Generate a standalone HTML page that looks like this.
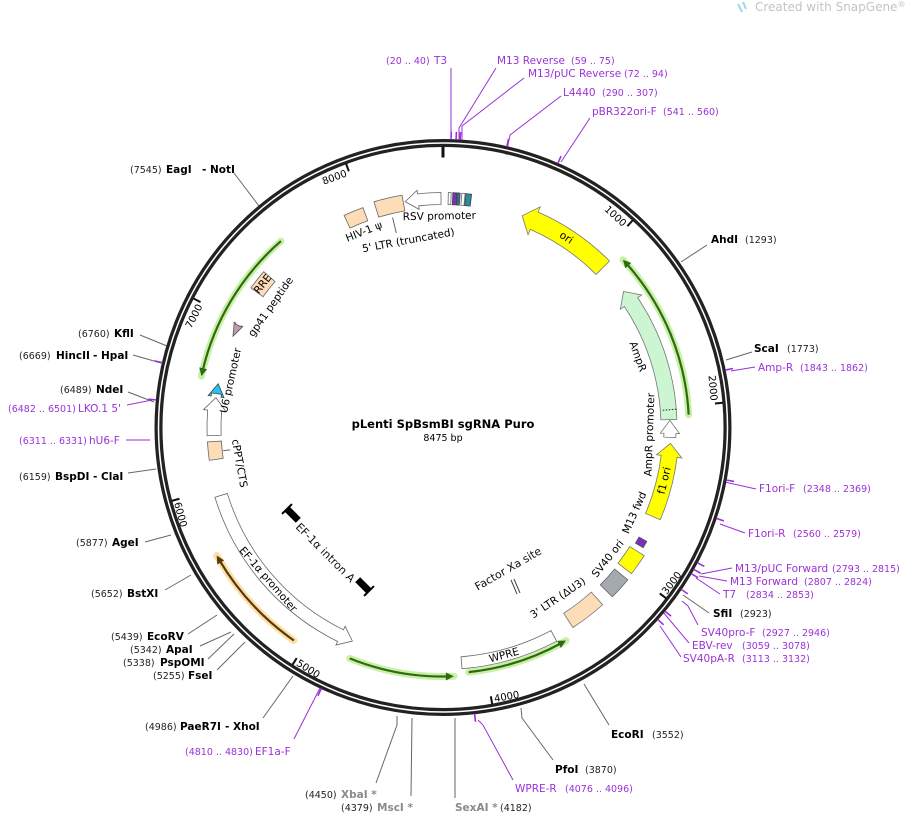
<!DOCTYPE html>
<html><head><meta charset="utf-8">
<style>
html,body{margin:0;padding:0;background:#fff;}
svg{display:block;font-family:"DejaVu Sans","Liberation Sans",sans-serif;}
.n{font-size:9.5px;fill:#222;}
.b{font-size:10.5px;font-weight:bold;fill:#000;}
.p{font-size:10.5px;fill:#9a32d6;}
.pn{font-size:9.5px;fill:#9a32d6;}
.g{font-size:10.5px;font-weight:bold;fill:#8a8a8a;}
.f{font-size:11px;fill:#111;}
</style></head>
<body>
<svg id="s" width="905" height="815" viewBox="0 0 905 815" xmlns="http://www.w3.org/2000/svg">
<text x="755" y="11" style="font-size:12px;fill:#c4c4c4">Created with SnapGene<tspan style="font-size:8px" dy="-4">®</tspan></text>
<path d="M738 4 l4 8 M743 2 l3 7" stroke="#9fd8e6" stroke-width="2"/>

<g fill="none" stroke-width="1">
<g stroke="#9a32d6">
<path d="M451 68 L451 147"/><path d="M496 68 L459 128 L459 147"/><path d="M524 78 L462 126 L462 147"/>
<path d="M561 96 L510 135 L506 155"/><path d="M590 118 L561 162"/>
<path d="M755 367 L731 371"/><path d="M756 489 L720 481"/><path d="M745 533 L720 524"/>
<path d="M732 568 L701 574"/><path d="M727 581 L699 576"/><path d="M720 594 L696 578"/>
<path d="M698 625 L688 606 L682 601"/><path d="M689 643 L663 612"/><path d="M681 657 L660 626"/>
<path d="M513 780 L483 725 L478 720"/>
<path d="M294 739 L320 688"/>
<path d="M126 440 L150 440"/><path d="M127 405 L152 400"/>
</g>
<g stroke="#666">
<path d="M707 245 L681 262"/><path d="M752 352 L726 360"/><path d="M709 613 L683 595"/>
<path d="M609 725 L584 684"/><path d="M553 760 L522 718 L521 708"/>
<path d="M455 798 L455 718"/><path d="M411 796 L412 718"/><path d="M376 783 L397 725 L397 716"/>
<path d="M263 718 L293 676"/><path d="M217 670 L245 642"/><path d="M208 659 L234 634"/>
<path d="M200 646 L231 632"/><path d="M188 634 L217 615"/><path d="M165 590 L191 575"/>
<path d="M145 542 L171 535"/><path d="M128 473 L156 469"/><path d="M133 355 L161 363"/>
<path d="M140 335 L167 346"/><path d="M128 392 L154 402"/><path d="M234 173 L259 206"/>
</g>
</g>

<circle cx="443" cy="427.5" r="284.5" fill="none" stroke="#222" stroke-width="8"/>
<circle cx="443" cy="427.5" r="284.5" fill="none" stroke="#fff" stroke-width="1.5"/>
<g id="feat"></g>

<text x="443" y="428" text-anchor="middle" style="font-size:11.5px;font-weight:bold">pLenti SpBsmBI sgRNA Puro</text>
<text x="443" y="441" text-anchor="middle" style="font-size:9.5px">8475 bp</text>

<text x="386" y="64" class="pn">(20 .. 40)</text><text x="434" y="64" class="p">T3</text>
<text x="497" y="64" class="p">M13 Reverse</text><text x="571" y="64" class="pn">(59 .. 75)</text>
<text x="528" y="77" class="p">M13/pUC Reverse</text><text x="624" y="77" class="pn">(72 .. 94)</text>
<text x="563" y="96" class="p">L4440</text><text x="602" y="96" class="pn">(290 .. 307)</text>
<text x="592" y="115" class="p">pBR322ori-F</text><text x="663" y="115" class="pn">(541 .. 560)</text>
<text x="711" y="243" class="b">AhdI</text><text x="745" y="243" class="n">(1293)</text>
<text x="754" y="352" class="b">ScaI</text><text x="787" y="352" class="n">(1773)</text>
<text x="758" y="371" class="p">Amp-R</text><text x="800" y="371" class="pn">(1843 .. 1862)</text>
<text x="759" y="492" class="p">F1ori-F</text><text x="803" y="492" class="pn">(2348 .. 2369)</text>
<text x="748" y="537" class="p">F1ori-R</text><text x="793" y="537" class="pn">(2560 .. 2579)</text>
<text x="735" y="572" class="p">M13/pUC Forward</text><text x="832" y="572" class="pn">(2793 .. 2815)</text>
<text x="730" y="585" class="p">M13 Forward</text><text x="804" y="585" class="pn">(2807 .. 2824)</text>
<text x="723" y="598" class="p">T7</text><text x="746" y="598" class="pn">(2834 .. 2853)</text>
<text x="713" y="617" class="b">SfiI</text><text x="740" y="617" class="n">(2923)</text>
<text x="701" y="636" class="p">SV40pro-F</text><text x="762" y="636" class="pn">(2927 .. 2946)</text>
<text x="692" y="649" class="p">EBV-rev</text><text x="742" y="649" class="pn">(3059 .. 3078)</text>
<text x="683" y="662" class="p">SV40pA-R</text><text x="742" y="662" class="pn">(3113 .. 3132)</text>
<text x="611" y="738" class="b">EcoRI</text><text x="652" y="738" class="n">(3552)</text>
<text x="555" y="773" class="b">PfoI</text><text x="585" y="773" class="n">(3870)</text>
<text x="515" y="792" class="p">WPRE-R</text><text x="565" y="792" class="pn">(4076 .. 4096)</text>
<text x="455" y="811" class="g">SexAI *</text><text x="500" y="811" class="n">(4182)</text>
<text x="341" y="811" class="n">(4379)</text><text x="377" y="811" class="g">MscI *</text>
<text x="305" y="798" class="n">(4450)</text><text x="341" y="798" class="g">XbaI *</text>
<text x="185" y="755" class="pn">(4810 .. 4830)</text><text x="255" y="755" class="p">EF1a-F</text>
<text x="145" y="730" class="n">(4986)</text><text x="180" y="730" class="b">PaeR7I</text><text x="225" y="730" class="b">- XhoI</text>
<text x="153" y="679" class="n">(5255)</text><text x="188" y="679" class="b">FseI</text>
<text x="123" y="666" class="n">(5338)</text><text x="160" y="666" class="b">PspOMI</text>
<text x="130" y="653" class="n">(5342)</text><text x="166" y="653" class="b">ApaI</text>
<text x="111" y="640" class="n">(5439)</text><text x="147" y="640" class="b">EcoRV</text>
<text x="91" y="597" class="n">(5652)</text><text x="127" y="597" class="b">BstXI</text>
<text x="76" y="546" class="n">(5877)</text><text x="112" y="546" class="b">AgeI</text>
<text x="19" y="480" class="n">(6159)</text><text x="55" y="480" class="b">BspDI</text><text x="93" y="480" class="b">- ClaI</text>
<text x="19" y="444" class="pn">(6311 .. 6331)</text><text x="89" y="444" class="p">hU6-F</text>
<text x="8" y="412" class="pn">(6482 .. 6501)</text><text x="78" y="412" class="p">LKO.1 5'</text>
<text x="60" y="393" class="n">(6489)</text><text x="96" y="393" class="b">NdeI</text>
<text x="19" y="359" class="n">(6669)</text><text x="56" y="359" class="b">HincII</text><text x="93" y="359" class="b">- HpaI</text>
<text x="78" y="337" class="n">(6760)</text><text x="114" y="337" class="b">KflI</text>
<text x="130" y="173" class="n">(7545)</text><text x="166" y="173" class="b">EagI</text><text x="202" y="173" class="b">- NotI</text>

<g transform="translate(328,550) rotate(45)">
<rect x="-58" y="-3.5" width="16" height="7" fill="#000"/><rect x="-59" y="-7" width="2" height="14" fill="#000"/>
<rect x="42" y="-3.5" width="16" height="7" fill="#000"/><rect x="57" y="-7" width="2" height="14" fill="#000"/>
<text x="0" y="4" text-anchor="middle" dominant-baseline="central" class="f">EF-1α intron A</text>
</g>
<path d="M511 580 l6 14 M514 579 l6 14" stroke="#444" stroke-width="1"/>
<text transform="translate(510,572) rotate(-30)" text-anchor="middle" class="f">Factor Xa site</text>
</svg>
<script>
(function(){
var cx=443,cy=427.5,NS="http://www.w3.org/2000/svg",g=document.getElementById("feat");
function P(a,r){var t=a*Math.PI/180;return [cx+r*Math.sin(t),cy-r*Math.cos(t)];}
function pt(a,r){var p=P(a,r);return p[0].toFixed(2)+" "+p[1].toFixed(2);}
function arc(a1,a2,r){var large=Math.abs(a2-a1)>180?1:0,sw=a2>a1?1:0;return "A"+r+" "+r+" 0 "+large+" "+sw+" "+pt(a2,r);}
function el(n,at){var e=document.createElementNS(NS,n);for(var k in at)e.setAttribute(k,at[k]);g.appendChild(e);return e;}
function band(a1,a2,r,w,fill,stroke,head){
 var hw=w*1.6,hl=13/r*180/Math.PI,d;
 if(head=="end"){var b=a2-hl;d="M"+pt(a1,r+w/2)+arc(a1,b,r+w/2)+"L"+pt(b,r+hw/2)+"L"+pt(a2,r)+"L"+pt(b,r-hw/2)+"L"+pt(b,r-w/2)+arc(b,a1,r-w/2)+"Z";}
 else if(head=="start"){var b=a1+hl;d="M"+pt(a2,r+w/2)+arc(a2,b,r+w/2)+"L"+pt(b,r+hw/2)+"L"+pt(a1,r)+"L"+pt(b,r-hw/2)+"L"+pt(b,r-w/2)+arc(b,a2,r-w/2)+"Z";}
 else {d="M"+pt(a1,r+w/2)+arc(a1,a2,r+w/2)+"L"+pt(a2,r-w/2)+arc(a2,a1,r-w/2)+"Z";}
 el("path",{d:d,fill:fill,stroke:stroke||"#666","stroke-width":0.8});
}
function line(a1,a2,r,col,glow,headAt){
 var hl=8/r*180/Math.PI;
 var s=a1,e=a2; if(headAt=="end")e=a2-hl*0.6; else s=a1+hl*0.6;
 el("path",{d:"M"+pt(a1,r)+arc(a1,a2,r),fill:"none",stroke:glow,"stroke-width":7,"stroke-linecap":"round",opacity:0.75});
 el("path",{d:"M"+pt(s,r)+arc(s,e,r),fill:"none",stroke:col,"stroke-width":2.2});
 var tip=headAt=="end"?a2:a1,base=headAt=="end"?a2-hl:a1+hl;
 el("path",{d:"M"+pt(tip,r)+"L"+pt(base,r+4)+"L"+pt(base,r-4)+"Z",fill:col});
}
function txt(a,r,s,size,anchor){
 var p=P(a,r),rot=(a>90&&a<270)?a-180:a;
 var t=el("text",{x:0,y:0,transform:"translate("+p[0].toFixed(1)+","+p[1].toFixed(1)+") rotate("+rot.toFixed(1)+")","text-anchor":anchor||"middle","dominant-baseline":"central",style:"font-size:"+(size||10.5)+"px"});
 t.textContent=s;
}
for(var i=0;i<9;i++){var a=i*1000/8475*360;
 var p1=P(a,281),p2=P(a,i==0?270:273);
 el("line",{x1:p1[0],y1:p1[1],x2:p2[0],y2:p2[1],stroke:"#111","stroke-width":i==0?3:2});
 if(i>0){var top=!(a>90&&a<270);var pp=P(a-0.6,top?269:273),rot=top?a:a-180;
  var t=el("text",{transform:"translate("+pp[0].toFixed(1)+","+pp[1].toFixed(1)+") rotate("+rot.toFixed(1)+")","text-anchor":top?"end":"start","dominant-baseline":top?"auto":"hanging",style:"font-size:10px"});
  t.textContent=i*1000;}
}
var hooks=[1.6,2.6,3.4,12.8,23.5,78.5,100.5,108.4,118,119.5,120.5,124.2,129.6,131.8,173.7,205,275.5,283];
hooks.forEach(function(h){var p1=P(h,288),p2=P(h,296);el("line",{x1:p1[0],y1:p1[1],x2:p2[0],y2:p2[1],stroke:"#9a32d6","stroke-width":1.6});});
band(20.5,45,226,19,"#ffff00","#777","start");
txt(33,226,"ori");
line(47,87,246,"#2f6a12","#b5ec8a","start");
band(53,88,226,16,"#ccf5d2","#777","start");
el("path",{d:"M"+pt(85.5,234)+"L"+pt(85.5,219),stroke:"#222","stroke-width":1,"stroke-dasharray":"1.5,1.5",fill:"none"});
txt(70,207,"AmpR");
band(88.2,92.5,227,12,"#fff","#777","start");
txt(92,207,"AmpR promoter");
band(94,113,228,16,"#ffff00","#777","start");
txt(103.5,228,"f1 ori");
band(119.2,121,229,9,"#7b2fbf","#555",null);
txt(114,210,"M13 fwd");
band(122.5,127.8,230,17,"#ffff00","#777",null);
txt(128.5,211,"SV40 ori");
band(129.5,135,231,17,"#a5aab0","#666",null);
band(138,147,230,17,"#fddcb8","#777",null);
txt(146,206,"3' LTR (ΔU3)");
band(152,175.5,236,12,"#fff","#666",null);
txt(165,236,"WPRE");
line(150,174,246,"#2f6a12","#b5ec8a","start");
line(177.5,202,249,"#2f6a12","#b5ec8a","start");
band(203,253,232,13,"#fff","#666","start");
txt(229,232,"EF-1α promoter");
line(215,240.5,260,"#5a3a0a","#fbd58a","end");
band(262,266.5,229,14,"#fddcb8","#666",null);
txt(260,207,"cPPT/CTS");
band(268,277.5,229,14,"#fff","#666","end");
txt(282.5,217,"U6 promoter");
band(278.5,281,229,10,"#22c4ef","#444","end");
band(293.5,296.5,229,6,"#c795b0","#555","start");
txt(305,210,"gp41 peptide");
band(306,311,230,15,"#fddcb8","#666",null);
txt(308.5,230,"RRE");
line(282,319,247,"#2f6a12","#b5ec8a","start");
band(335,340,227,14,"#fddcb8","#666",null);
band(343,350,228,16,"#fddcb8","#666",null);
band(350.5,359.5,229,12,"#fff","#666","start");
txt(349.5,190,"5' LTR (truncated)");txt(338,211,"HIV-1 ψ");txt(359,211,"RSV promoter");
band(1.3,2,229,12,"#fff","#666",null);band(2.4,3.4,229,12,"#7b2fbf","#444",null);
band(3.5,4.2,229,12,"#2a7a8a","#444",null);band(4.6,5.4,229,12,"#fff","#666",null);band(5.6,7,229,12,"#2a8aa0","#444",null);
var cp=P(346.5,216),cq=P(346.5,200);el("line",{x1:cp[0],y1:cp[1],x2:cq[0],y2:cq[1],stroke:"#666"});
var dp=P(264,221),dq=P(264,214);el("line",{x1:dp[0],y1:dp[1],x2:dq[0],y2:dq[1],stroke:"#666"});
})();
</script>
</body></html>
